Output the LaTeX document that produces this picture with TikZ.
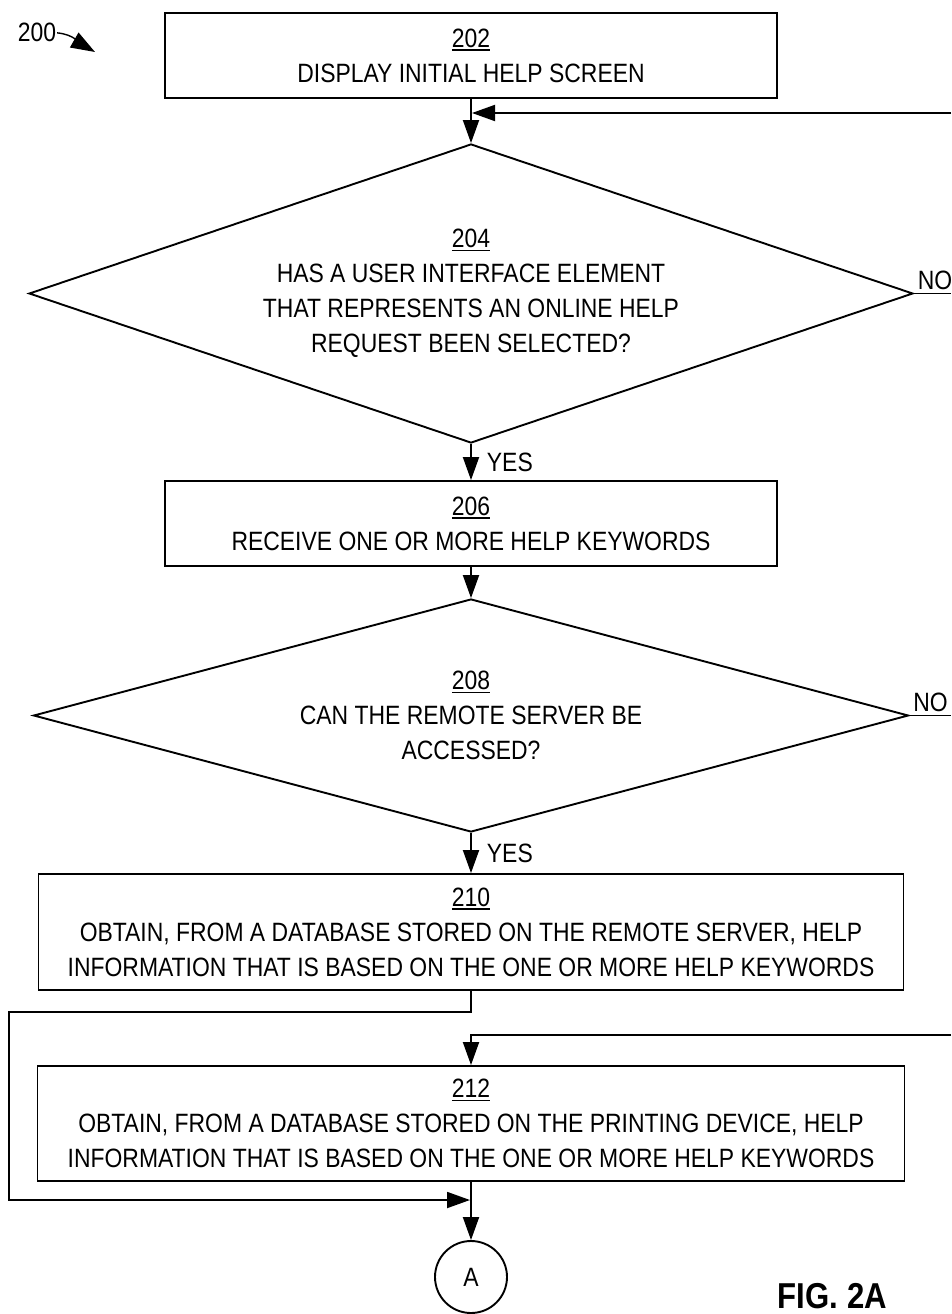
\documentclass[tikz,border=0pt]{standalone}
\usepackage{fontspec}
\setmainfont{Liberation Sans}[FakeStretch=0.865]
\usepackage{tikz}
\usetikzlibrary{shapes.geometric}
\usetikzlibrary{arrows.meta}

\newsavebox{\numbox}
\newcommand{\refno}[1]{\sbox{\numbox}{#1}\rlap{\rule[-3.5pt]{\wd\numbox}{1.6pt}}\usebox{\numbox}}

\begin{document}
\begin{tikzpicture}[
        x=1pt, y=-1pt,
        line width=1.9pt,
        font=\fontsize{26.5}{35}\selectfont,
        proc-node/.style={rectangle,draw,align=center,inner sep=0pt},
        cond-node/.style={diamond,draw,align=center,inner sep=0pt,shape aspect=3},
        conn-node/.style={circle,draw,inner sep=0pt,minimum size=72pt},
        arr/.style={-{Triangle[length=23pt,width=16pt]}},
        ptr/.style={line width=1.4pt,-{Triangle[length=24pt,width=17pt]}},
        yes-label/.style={right,inner sep=0pt,xshift=15pt},
        no-label/.style={anchor=south west,inner xsep=3pt,inner ysep=3pt}
    ]
        \useasboundingbox (0,0) rectangle (951,1314);

        \node[anchor=base west, inner sep=0pt] (200) at (17,42) {200};
        \coordinate (tip200) at (95,52);

        \node[proc-node, minimum width=612pt, minimum height=85pt] (202) at (471,55.5)
            {\refno{202}\\DISPLAY INITIAL HELP SCREEN};
        \node[cond-node, minimum width=884pt, minimum height=299pt] (204) at (471,293.5)
            {\refno{204}\\HAS A USER INTERFACE ELEMENT\\THAT REPRESENTS AN ONLINE HELP\\REQUEST BEEN SELECTED?};
        \node[proc-node, minimum width=612pt, minimum height=85pt] (206) at (471,523.5)
            {\refno{206}\\RECEIVE ONE OR MORE HELP KEYWORDS};
        \node[cond-node, minimum width=875pt, minimum height=233pt] (208) at (471,715.5)
            {\refno{208}\\CAN THE REMOTE SERVER BE\\ACCESSED?};
        \node[proc-node, minimum width=865pt, minimum height=116pt] (210) at (471,932)
            {\refno{210}\\OBTAIN, FROM A DATABASE STORED ON THE REMOTE SERVER, HELP\\INFORMATION THAT IS BASED ON THE ONE OR MORE HELP KEYWORDS};
        \node[proc-node, minimum width=867pt, minimum height=115pt] (212) at (471,1123.5)
            {\refno{212}\\OBTAIN, FROM A DATABASE STORED ON THE PRINTING DEVICE, HELP\\INFORMATION THAT IS BASED ON THE ONE OR MORE HELP KEYWORDS};
        \node[conn-node] (A) at (471,1277) {A};

        \node[anchor=base west, inner sep=0pt, font=\bfseries\fontsize{36}{40}\selectfont] (fig) at (777,1308) {FIG. 2A};

        \coordinate (ret204) at (951,113);
        \coordinate (join204) at (472,113);
        \coordinate (no204) at (951,293.5);
        \coordinate (no208) at (951,715.5);
        \coordinate (bend210) at (9,1012);
        \coordinate (join212) at (470,1200);
        \coordinate (ret212) at (951,1035);

        \draw[ptr] (200.east) to[out=-5,in=150] (tip200);
        \draw[arr] (202.south) -- (204.north);
        \draw[arr] (ret204) -- (join204);
        \draw (204.east) -- node[pos=0, no-label] {NO} (no204);
        \draw[arr] (204.south) -- node[yes-label] {YES} (206.north);
        \draw[arr] (206.south) -- (208.north);
        \draw (208.east) -- node[pos=0, no-label] {NO} (no208);
        \draw[arr] (208.south) -- node[yes-label] {YES} (210.north);
        \draw[arr] (210.south) |- (bend210) |- (join212);
        \draw[arr] (ret212) -| (212.north);
        \draw[arr] (212.south) -- (A.north);
    \end{tikzpicture}
\end{document}
